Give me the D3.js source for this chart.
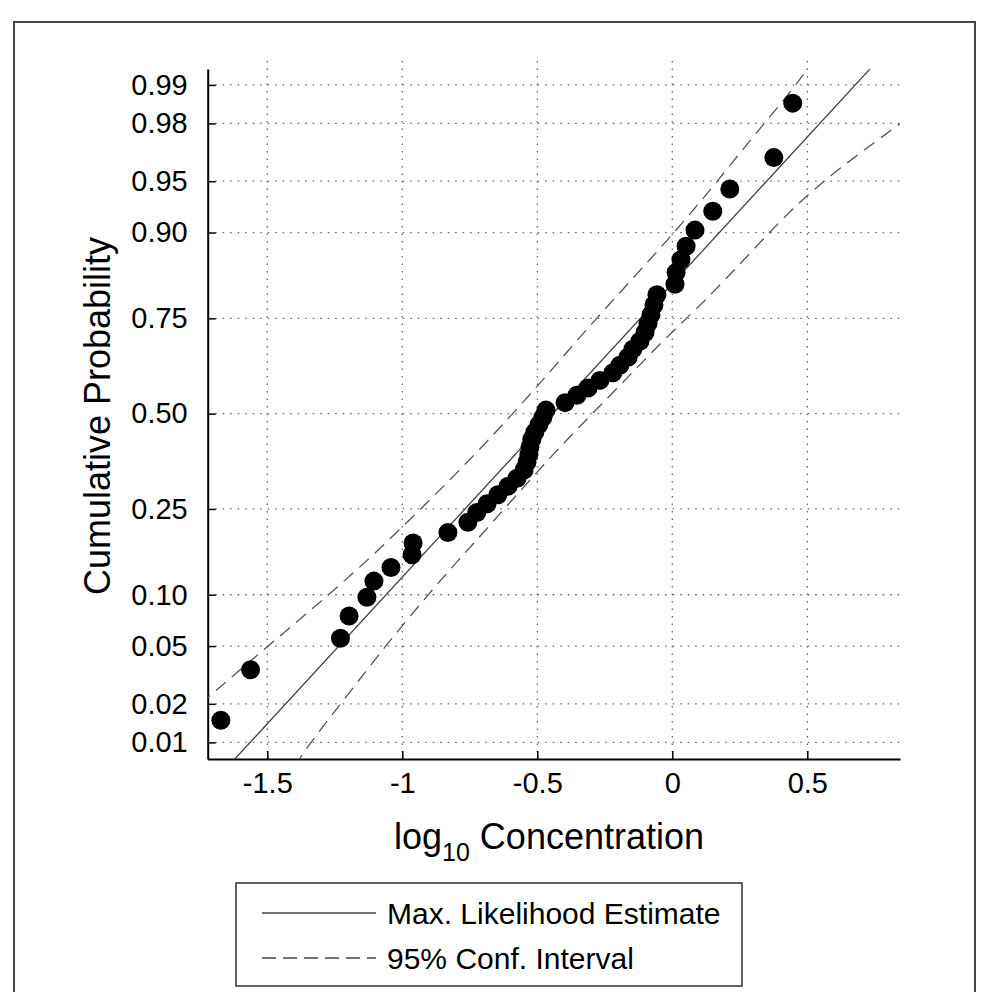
<!DOCTYPE html>
<html>
<head>
<meta charset="utf-8">
<script src="https://cdn.jsdelivr.net/npm/d3@7"></script>
<style>
  body { margin: 0; background: #fff; }
  svg text { font-family: "Liberation Sans", Arial, sans-serif; fill: #000; }
</style>
</head>
<body>
<div class="prob-figure"></div>
<script>
// observed points: log10 concentration and plotting probability
let obsX = [-1.672, -1.562, -1.229, -1.197, -1.131, -1.105, -1.042, -0.964, -0.960, -0.831,
  -0.757, -0.724, -0.686, -0.646, -0.608, -0.575, -0.549, -0.538, -0.531, -0.527,
  -0.520, -0.509, -0.494, -0.479, -0.468, -0.397, -0.353, -0.312, -0.268, -0.220,
  -0.194, -0.164, -0.146, -0.120, -0.101, -0.090, -0.079, -0.068, -0.057, 0.010,
  0.014, 0.032, 0.051, 0.084, 0.150, 0.213, 0.376, 0.446];
let obsP = [0.015, 0.035, 0.056, 0.076, 0.097, 0.118, 0.138, 0.159, 0.180, 0.200,
  0.221, 0.242, 0.262, 0.283, 0.304, 0.324, 0.345, 0.366, 0.386, 0.407,
  0.428, 0.448, 0.469, 0.490, 0.510, 0.531, 0.552, 0.572, 0.593, 0.614,
  0.634, 0.655, 0.676, 0.696, 0.717, 0.738, 0.758, 0.779, 0.800, 0.820,
  0.841, 0.862, 0.882, 0.903, 0.924, 0.944, 0.965, 0.986];

// max likelihood line (ends beyond the plot, clipped)
let mleX = [-1.70, 0.80];
let mleP = [0.00453, 0.99507];

// 95% confidence band
let upperX = [-1.749, -1.498, -1.268, -1.046, -0.712, -0.501, -0.294, -0.083, 0.103, 0.288, 0.461, 0.517];
let upperP = [0.0199, 0.050, 0.1008, 0.1854, 0.3986, 0.575, 0.742, 0.8617, 0.932, 0.9736, 0.990, 0.9936];
let lowerX = [-1.394, -1.372, -1.194, -1.046, -0.834, -0.723, -0.442, -0.220, -0.034, 0.114, 0.288, 0.473, 0.658, 0.862];
let lowerP = [0.0063, 0.0081, 0.0244, 0.0545, 0.131, 0.1854, 0.3897, 0.558, 0.6988, 0.783, 0.872, 0.9346, 0.9636, 0.9811];

let xTicks = [-1.5, -1, -0.5, 0, 0.5];
let xTickLabels = ["-1.5", "-1", "-0.5", "0", "0.5"];
let pTicks = [0.01, 0.02, 0.05, 0.10, 0.25, 0.50, 0.75, 0.90, 0.95, 0.98, 0.99];
let pTickLabels = ["0.01", "0.02", "0.05", "0.10", "0.25", "0.50", "0.75", "0.90", "0.95", "0.98", "0.99"];

let legendItems = ["Max. Likelihood Estimate", "95% Conf. Interval"];

let W = 984, H = 992;
let plot = {left: 207.7, right: 900, top: 69, bottom: 759};

// inverse normal cdf (Acklam) for the probability axis
function probit(p) {
    let a = [-3.969683028665376e+01, 2.209460984245205e+02, -2.759285104469687e+02, 1.383577518672690e+02, -3.066479806614716e+01, 2.506628277459239e+00];
    let b = [-5.447609879822406e+01, 1.615858368580409e+02, -1.556989798598866e+02, 6.680131188771972e+01, -1.328068155288572e+01];
    let c = [-7.784894002430293e-03, -3.223964580411365e-01, -2.400758277161838e+00, -2.549732539343734e+00, 4.374664141464968e+00, 2.938163982698783e+00];
    let d = [7.784695709041462e-03, 3.224671290700398e-01, 2.445134137142996e+00, 3.754408661907416e+00];
    let pl = 0.02425, q, r;
    if (p < pl) {
        q = Math.sqrt(-2 * Math.log(p));
        return (((((c[0]*q+c[1])*q+c[2])*q+c[3])*q+c[4])*q+c[5]) / ((((d[0]*q+d[1])*q+d[2])*q+d[3])*q+1);
    }
    if (p > 1 - pl) {
        q = Math.sqrt(-2 * Math.log(1 - p));
        return -(((((c[0]*q+c[1])*q+c[2])*q+c[3])*q+c[4])*q+c[5]) / ((((d[0]*q+d[1])*q+d[2])*q+d[3])*q+1);
    }
    q = p - 0.5; r = q * q;
    return (((((a[0]*r+a[1])*r+a[2])*r+a[3])*r+a[4])*r+a[5])*q / (((((b[0]*r+b[1])*r+b[2])*r+b[3])*r+b[4])*r+1);
}

let svg = d3.select(".prob-figure").append("svg")
    .attr("width", W).attr("height", H);

// outer frame
svg.append("rect")
    .attr("x", 14).attr("y", 22).attr("width", 961).attr("height", 1000)
    .attr("fill", "none").attr("stroke", "#444").attr("stroke-width", 2);

let x = d3.scaleLinear().domain([-1.7207, 0.8433]).range([plot.left, plot.right]);
let yz = d3.scaleLinear().domain([-2.444, 2.439]).range([plot.bottom, plot.top]);
let y = p => yz(probit(p));

svg.append("clipPath").attr("id", "plotclip")
  .append("rect")
    .attr("x", plot.left).attr("y", plot.top)
    .attr("width", plot.right - plot.left).attr("height", plot.bottom - plot.top);

// grid
let grid = svg.append("g").attr("stroke", "#666").attr("stroke-width", 1.3)
    .attr("stroke-dasharray", "1.5,6");
grid.selectAll(".gx").data(xTicks).enter().append("line")
    .attr("x1", d => x(d)).attr("x2", d => x(d))
    .attr("y1", plot.top - 8).attr("y2", plot.bottom);
grid.selectAll(".gy").data(pTicks).enter().append("line")
    .attr("x1", plot.left).attr("x2", plot.right)
    .attr("y1", d => y(d)).attr("y2", d => y(d));

// axes
let xAxis = svg.append("g")
    .attr("transform", "translate(0," + plot.bottom + ")")
    .call(d3.axisBottom(x).tickValues(xTicks)
        .tickFormat((d, i) => xTickLabels[i])
        .tickSizeInner(-8).tickSizeOuter(0).tickPadding(13));
let yAxis = svg.append("g")
    .attr("transform", "translate(" + plot.left + ",0)")
    .call(d3.axisLeft(yz).tickValues(pTicks.map(probit))
        .tickFormat((d, i) => pTickLabels[i])
        .tickSizeInner(-8).tickSizeOuter(0).tickPadding(20));
[xAxis, yAxis].forEach(g => {
    g.select(".domain").attr("stroke", "#000").attr("stroke-width", 2);
    g.selectAll(".tick line").attr("stroke", "#000").attr("stroke-width", 1.5);
    g.selectAll(".tick text").attr("font-size", 29)
        .attr("font-family", "'Liberation Sans', Arial, sans-serif");
});

let lineGen = d3.line().x(d => x(d[0])).y(d => y(d[1]));
let bandGen = d3.line().x(d => x(d[0])).y(d => y(d[1])).curve(d3.curveBasis);

let marks = svg.append("g").attr("clip-path", "url(#plotclip)");

marks.append("path")
    .datum(d3.zip(mleX, mleP))
    .attr("d", lineGen)
    .attr("fill", "none").attr("stroke", "#444").attr("stroke-width", 1.3);

[d3.zip(upperX, upperP), d3.zip(lowerX, lowerP)].forEach(band => {
    marks.append("path")
        .datum(band)
        .attr("d", bandGen)
        .attr("fill", "none").attr("stroke", "#555").attr("stroke-width", 1.3)
        .attr("stroke-dasharray", "13,8");
});

svg.append("g").selectAll("circle")
    .data(d3.zip(obsX, obsP))
    .enter().append("circle")
    .attr("cx", d => x(d[0]))
    .attr("cy", d => y(d[1]))
    .attr("r", 9.5)
    .attr("fill", "#000");

// axis titles
svg.append("text")
    .attr("transform", "translate(110," + ((plot.top + plot.bottom) / 2 + 2) + ") rotate(-90)")
    .attr("text-anchor", "middle")
    .attr("font-size", 36)
    .text("Cumulative Probability");

let xt = svg.append("text")
    .attr("x", 549).attr("y", 849)
    .attr("text-anchor", "middle")
    .attr("font-size", 36);
xt.append("tspan").text("log");
xt.append("tspan").attr("font-size", 25).attr("dy", 12).text("10");
xt.append("tspan").attr("dy", -12).text(" Concentration");

// legend
let lg = svg.append("g");
lg.append("rect")
    .attr("x", 236).attr("y", 883).attr("width", 506).attr("height", 103)
    .attr("fill", "#fff").attr("stroke", "#333").attr("stroke-width", 1.5);
lg.selectAll("line").data(legendItems).enter().append("line")
    .attr("x1", 262).attr("x2", 376)
    .attr("y1", (d, i) => 913 + i * 45).attr("y2", (d, i) => 913 + i * 45)
    .attr("stroke", "#444").attr("stroke-width", 1.3)
    .attr("stroke-dasharray", (d, i) => i ? "14,7" : null);
lg.selectAll("text").data(legendItems).enter().append("text")
    .attr("x", 387)
    .attr("y", (d, i) => 913 + i * 45)
    .attr("dy", "0.35em")
    .attr("font-size", 30)
    .text(d => d);
</script>
</body>
</html>
